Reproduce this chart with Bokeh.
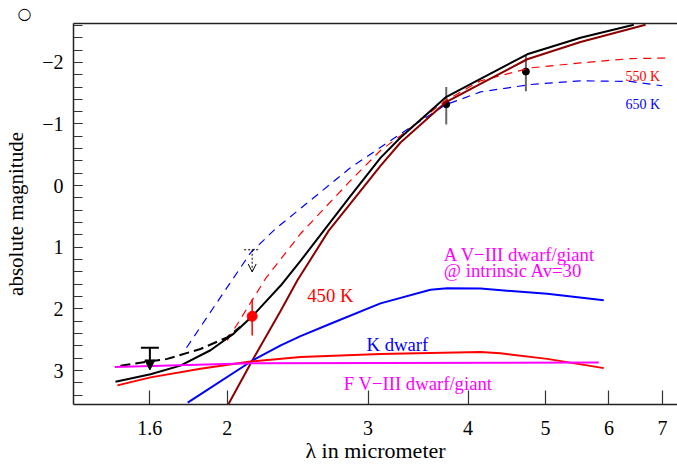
from bokeh.plotting import figure
from bokeh.models import (Range1d, FixedTicker, CustomJSTickFormatter, LogAxis,
                          Label, Arrow, NormalHead, OpenHead)
from bokeh.embed import file_html
from bokeh.resources import INLINE

# ---------------- data (wavelength in micrometer, absolute magnitude) ----------------
x_ticks = [1.6, 2, 3, 4, 5, 6, 7]
y_ticks = [-2, -1, 0, 1, 2, 3]

black_lam = [1.450, 1.604, 1.748, 1.906, 2.038, 2.149, 2.333, 2.470, 2.641, 2.851,
             3.109, 3.294, 3.749, 4.146, 4.743, 5.529, 6.446]
black_mag = [3.18, 3.06, 2.92, 2.67, 2.40, 2.12, 1.62, 1.22, 0.73, 0.17,
             -0.45, -0.78, -1.43, -1.73, -2.13, -2.40, -2.61]

black_dash_lam = [1.471, 1.683, 1.852, 2.000, 2.077]
black_dash_mag = [2.92, 2.81, 2.65, 2.46, 2.29]

bb450_lam = [2.006, 2.149, 2.333, 2.447, 2.679, 2.851, 3.109, 3.294, 3.749, 4.146,
             4.743, 5.529, 6.668]
bb450_mag = [3.55, 2.84, 2.03, 1.54, 0.73, 0.29, -0.32, -0.70, -1.35, -1.65,
             -2.05, -2.33, -2.61]

bb550_lam = [2.000, 2.233, 2.470, 2.851, 3.109, 3.294, 3.749, 4.146, 4.787, 5.529,
             6.385, 7.063]
bb550_mag = [2.51, 1.51, 0.78, -0.08, -0.57, -0.81, -1.38, -1.70, -1.91, -1.99,
             -2.06, -2.07]

bb650_lam = [1.779, 1.950, 2.139, 2.298, 2.470, 2.851, 3.294, 3.749, 4.146, 4.787,
             5.529, 6.385, 6.996]
bb650_mag = [2.63, 1.86, 1.09, 0.70, 0.37, -0.29, -0.84, -1.31, -1.52, -1.64,
             -1.70, -1.69, -1.62]

kdwarf_lam = [1.785, 2.149, 2.333, 2.470, 2.692, 3.109, 3.590, 3.768, 4.146, 5.024, 5.912]
kdwarf_mag = [3.52, 2.84, 2.59, 2.44, 2.24, 1.91, 1.69, 1.665, 1.67, 1.755, 1.86]

adwarf_lam = [1.458, 1.604, 1.852, 2.149, 2.470, 3.109, 4.146, 4.392, 5.024, 5.912]
adwarf_mag = [3.24, 3.11, 2.97, 2.85, 2.78, 2.73, 2.70, 2.72, 2.81, 2.96]

fdwarf_lam = [1.447, 2.149, 5.828]
fdwarf_mag = [2.94, 2.88, 2.87]

# measurements
red_pt_lam = [2.149]
red_pt_mag = [2.12]
red_pt_lo = [1.84]
red_pt_hi = [2.43]

blk_pt_lam = [3.757, 4.725]
blk_pt_mag = [-1.32, -1.85]
blk_pt_lo = [-1.60, -2.13]
blk_pt_hi = [-0.99, -1.53]

# upper limits: (wavelength, limit value, arrow tip)
ul_solid = (1.601, 2.63, 2.99)
ul_dotted = (2.149, 1.04, 1.40)

SERIF = "Liberation Serif"

p = figure(width=677, height=466, x_axis_type="log",
           x_range=Range1d(1.285, 7.31), y_range=Range1d(3.55, -2.63),
           output_backend="svg", toolbar_location=None,
           min_border_left=73, min_border_top=23, min_border_bottom=62,
           min_border_right=0)
p.outline_line_color = None
p.grid.visible = False

# small hollow circle in the top-left corner (as the title text)
p.title.text = "\u25cb"
p.title.align = "left"
p.title.vertical_align = "middle"
p.title.offset = -56
p.title.standoff = 0
p.title.text_font = "DejaVu Sans"
p.title.text_font_style = "normal"
p.title.text_font_size = "16px"
p.title.text_color = "black"

# axes styling
xa = p.xaxis[0]
xa.ticker = FixedTicker(ticks=x_ticks, minor_ticks=[])
xa.formatter = CustomJSTickFormatter(code="return String(tick);")
xa.major_tick_in = 14
xa.major_tick_out = 0
xa.minor_tick_in = 0
xa.minor_tick_out = 0
xa.major_label_standoff = 16
xa.axis_label = "λ in micrometer"
xa.axis_label_standoff = 0
xa.axis_label_text_font_style = "normal"

ya = p.yaxis[0]
minor = [round(-2.6 + 0.2 * i, 1) for i in range(31)]
ya.ticker = FixedTicker(ticks=y_ticks, minor_ticks=minor)
ya.formatter = CustomJSTickFormatter(
    code='return tick < 0 ? "\\u2212" + Math.abs(tick) : String(tick);')
ya.major_tick_in = 9
ya.major_tick_out = 0
ya.minor_tick_in = 9
ya.minor_tick_out = 0
ya.major_label_standoff = 10
ya.axis_label = "absolute magnitude"
ya.axis_label_standoff = 11
ya.axis_label_text_font_style = "normal"

for ax in (xa, ya):
    ax.axis_line_color = "#222222"
    ax.axis_line_width = 1.5
    ax.major_tick_line_color = "#333333"
    ax.minor_tick_line_color = "#333333"
    ax.major_tick_line_width = 1.2
    ax.minor_tick_line_width = 1.2
    ax.major_label_text_font = SERIF
    ax.major_label_text_font_size = "20px"
    ax.major_label_text_color = "black"
    ax.axis_label_text_font = SERIF
    ax.axis_label_text_color = "black"
xa.axis_label_text_font_size = "22px"
ya.axis_label_text_font_size = "21px"

top = LogAxis(ticker=FixedTicker(ticks=[]), major_tick_in=0, major_tick_out=0,
              minor_tick_in=0, minor_tick_out=0, major_label_text_font_size="0px",
              axis_line_color="#222222", axis_line_width=1.5, major_label_standoff=0)
p.add_layout(top, "above")

# error bars and measured points (the model dashes run over them)
p.segment(x0=blk_pt_lam, y0=blk_pt_lo, x1=blk_pt_lam, y1=blk_pt_hi,
          line_color="#666666", line_width=2)
p.scatter(blk_pt_lam, blk_pt_mag, size=7, color="black")

# model curves
p.line(bb650_lam, bb650_mag, line_color="#0000ff", line_width=1.2, line_dash="8 6")
p.line(bb550_lam, bb550_mag, line_color="#ff0000", line_width=1.2, line_dash="8 6")
p.line(black_dash_lam, black_dash_mag, line_color="black", line_width=2, line_dash="10 5")
p.line(black_lam, black_mag, line_color="black", line_width=2)
p.line(bb450_lam, bb450_mag, line_color="#8b0000", line_width=2)
p.line(kdwarf_lam, kdwarf_mag, line_color="#0000ff", line_width=2)
p.line(adwarf_lam, adwarf_mag, line_color="#ff0000", line_width=2)
p.line(fdwarf_lam, fdwarf_mag, line_color="#ff00ff", line_width=2)

# red measurement
p.segment(x0=red_pt_lam, y0=red_pt_lo, x1=red_pt_lam, y1=red_pt_hi,
          line_color="#ff0000", line_width=1.5)
p.scatter(red_pt_lam, red_pt_mag, size=10, color="#ff0000")

# upper limits
p.scatter([ul_solid[0]], [ul_solid[1]], marker="dash", size=18,
          line_color="black", line_width=2)
p.add_layout(Arrow(end=NormalHead(size=10, fill_color="black", line_color="black"),
                   x_start=ul_solid[0], y_start=ul_solid[1],
                   x_end=ul_solid[0], y_end=ul_solid[2],
                   line_color="black", line_width=2))
p.scatter([ul_dotted[0]], [ul_dotted[1]], marker="dash", size=16,
          line_color="black", line_width=1, line_dash="2 2")
p.add_layout(Arrow(end=OpenHead(size=8, line_color="black", line_width=1),
                   x_start=ul_dotted[0], y_start=ul_dotted[1],
                   x_end=ul_dotted[0], y_end=ul_dotted[2],
                   line_color="black", line_width=1, line_dash="2 2"))

# text labels
def lab(x, y, t, color, size):
    p.add_layout(Label(x=x, y=y, text=t, text_color=color, text_font=SERIF,
                       text_font_size=size, text_baseline="alphabetic",
                       text_align="left"))

lab(2.518, 1.78, "450 K", "#ff0000", "18.7px")
lab(2.987, 2.58, "K dwarf", "#0000ff", "18.7px")
lab(2.797, 3.21, "F V\u2212III dwarf/giant", "#ff00ff", "18.7px")
lab(3.731, 1.12, "A V\u2212III dwarf/giant", "#ff00ff", "18.7px")
lab(3.731, 1.38, "@ intrinsic Av=30", "#ff00ff", "18.7px")
lab(6.294, -1.77, "550 K", "#ff0000", "14px")
lab(6.294, -1.31, "650 K", "#0000ff", "14px")

open("out.html", "w", encoding="utf-8").write(file_html(p, INLINE))
